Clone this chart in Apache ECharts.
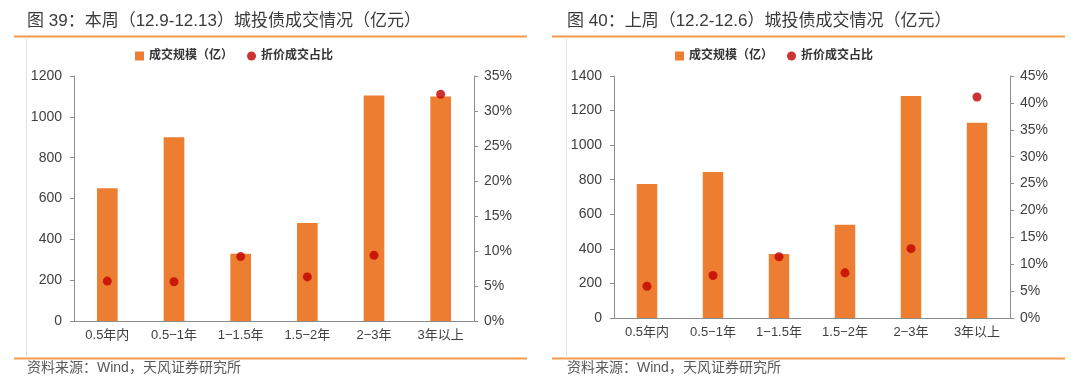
<!DOCTYPE html>
<html><head><meta charset="utf-8">
<script src="https://cdn.jsdelivr.net/npm/echarts@6/dist/echarts.min.js"></script>
<style>html,body{margin:0;padding:0;background:#fff}#c{width:1080px;height:384px}</style>
</head><body><div id="c"></div>
<script>
const categories = ['0.5年内','0.5−1年','1−1.5年','1.5−2年','2−3年','3年以上'];
const volumeThis = [650, 900, 330, 480, 1105, 1100];
const ratioThis = [5.7, 5.6, 9.2, 6.3, 9.4, 32.4];
const volumeLast = [775, 845, 370, 540, 1285, 1130];
const ratioLast = [5.9, 7.9, 11.4, 8.4, 12.9, 41.1];
const leftTicksThis = {min:0, max:1200, interval:200};
const rightTicksThis = {min:0, max:35, interval:5};
const leftTicksLast = {min:0, max:1400, interval:200};
const rightTicksLast = {min:0, max:45, interval:5};
const titles = ['图 39：本周（12.9-12.13）城投债成交情况（亿元）','图 40：上周（12.2-12.6）城投债成交情况（亿元）'];
const sourceText = '资料来源：Wind，天风证券研究所';
const nameBar = '成交规模（亿）', nameDot = '折价成交占比';

const FONT = '"Liberation Sans", "Noto Sans CJK SC", sans-serif';
const axisGray = '#8c8c8c';
const textGray = '#404040';
const chart = echarts.init(document.getElementById('c'));

function yAx(grid, t, pos, pct){
  return {type:'value', gridIndex:grid, position:pos, min:t.min, max:t.max, interval:t.interval,
    axisLine:{show:true, lineStyle:{color:axisGray}}, axisTick:{show:true, length:4, lineStyle:{color:axisGray}},
    splitLine:{show:false},
    axisLabel:{color:textGray, fontSize:14, fontFamily:FONT, margin:pos==='left'?12:10,
      formatter: v => pct ? (v + '%') : String(v)}};
}
function xAx(grid){
  return {type:'category', gridIndex:grid, data:categories,
    axisLine:{lineStyle:{color:axisGray}}, axisTick:{length:4, lineStyle:{color:axisGray}},
    axisLabel:{color:textGray, fontSize:13, fontFamily:FONT, margin:8}};
}
const panels = [{x0:14, x1:527, vx:26}, {x0:552, x1:1065, vx:566}];
const graphics = [];
panels.forEach((p,i)=>{
  graphics.push({type:'line', shape:{x1:p.x0,y1:36.5,x2:p.x1,y2:36.5}, style:{stroke:'#f39a4b', lineWidth:2}});
  graphics.push({type:'line', shape:{x1:p.x0,y1:358.5,x2:p.x1,y2:358.5}, style:{stroke:'#f39a4b', lineWidth:2}});
  graphics.push({type:'line', shape:{x1:p.vx+0.5,y1:37,x2:p.vx+0.5,y2:358}, style:{stroke:'#e3e3e3', lineWidth:1}});
  graphics.push({type:'text', left:p.vx+1, top:361, style:{text:sourceText, fill:'#595959', font:'14px '+FONT}});
  graphics.push({type:'text', left:p.vx+1, top:13, style:{text:titles[i], fill:'#3a3a3a', font:'17px '+FONT}});
});

chart.setOption({
  animation:false,
  textStyle:{fontFamily:FONT},
  grid:[{left:74, right:1080-474, top:76, bottom:384-321},
        {left:614, right:1080-1010, top:76, bottom:384-318}],
  legend:[
    {left:130, top:45, itemGap:14, itemWidth:9, itemHeight:9, textStyle:{fontSize:12, fontWeight:'bold', color:'#333', fontFamily:FONT},
     data:[{name:nameBar, icon:'rect'},{name:nameDot, icon:'circle'}]},
    {left:670, top:45, itemGap:14, itemWidth:9, itemHeight:9, textStyle:{fontSize:12, fontWeight:'bold', color:'#333', fontFamily:FONT},
     data:[{name:nameBar, icon:'rect'},{name:nameDot, icon:'circle'}]}
  ],
  xAxis:[xAx(0), xAx(1)],
  yAxis:[yAx(0,leftTicksThis,'left',false), yAx(0,rightTicksThis,'right',true),
         yAx(1,leftTicksLast,'left',false), yAx(1,rightTicksLast,'right',true)],
  series:[
    {name:nameBar, type:'bar', xAxisIndex:0, yAxisIndex:0, data:volumeThis, barWidth:'31%', itemStyle:{color:'#ED7D31'}},
    {name:nameDot, type:'scatter', xAxisIndex:0, yAxisIndex:1, data:ratioThis, symbolSize:9, itemStyle:{color:'#C00000'}},
    {name:nameBar, type:'bar', xAxisIndex:1, yAxisIndex:2, data:volumeLast, barWidth:'31%', itemStyle:{color:'#ED7D31'}},
    {name:nameDot, type:'scatter', xAxisIndex:1, yAxisIndex:3, data:ratioLast, symbolSize:9, itemStyle:{color:'#C00000'}}
  ],
  graphic:graphics
});
</script></body></html>
